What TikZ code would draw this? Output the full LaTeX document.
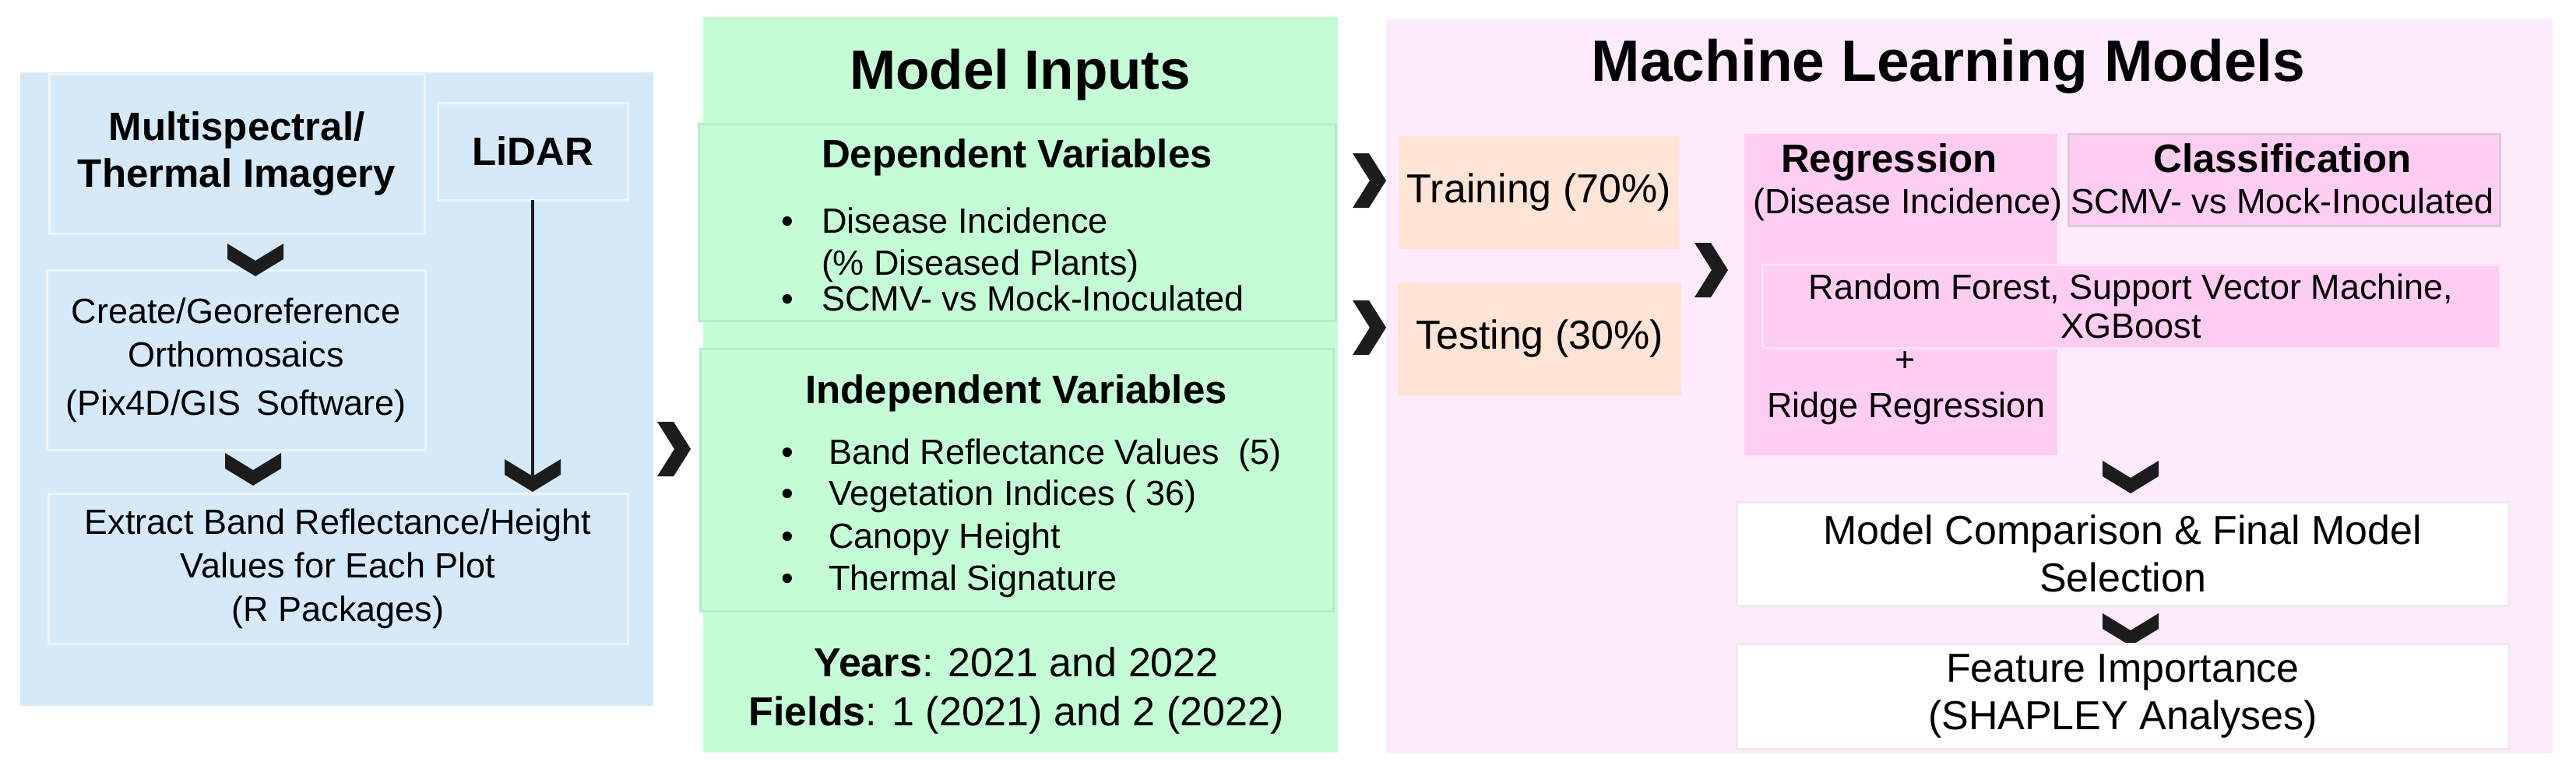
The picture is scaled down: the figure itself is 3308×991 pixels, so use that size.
\documentclass[tikz,border=0pt]{standalone}
\usepackage{fontspec}
\setmainfont{Liberation Sans}
\definecolor{blueP}{HTML}{D6E9F8}
\definecolor{blueB}{HTML}{EDF4FB}
\definecolor{greenP}{HTML}{C3FCD5}
\definecolor{greenB}{HTML}{B4EEC7}
\definecolor{pinkP}{HTML}{FDEAFB}
\definecolor{peachP}{HTML}{FDE4D5}
\definecolor{regP}{HTML}{FFCCF2}
\definecolor{classB}{HTML}{D9CDD6}
\definecolor{rfB}{HTML}{FBE3F7}
\definecolor{whiteB}{HTML}{F0E8EF}
\definecolor{chevcol}{HTML}{1C1C1C}
\newcommand\fsBody{\fontsize{45}{56}\selectfont}
\newcommand\fsMid{\fontsize{52}{61}\selectfont}
\newcommand\fsHead{\fontsize{51}{60}\selectfont\bfseries}
\newcommand\fsTitleA{\fontsize{71}{80}\selectfont\bfseries}
\newcommand\fsTitleB{\fontsize{75}{85}\selectfont\bfseries}
\begin{document}
\begin{tikzpicture}[x=1pt,y=-1pt,
  every node/.style={inner sep=0pt, outer sep=0pt},
  panel/.style={anchor=north west, draw=none},
  bbox/.style={anchor=north west, draw=blueB, line width=3pt, fill=blueP, align=center},
  gbox/.style={anchor=north west, draw=greenB, line width=3pt, fill=greenP},
  pbox/.style={anchor=north west, fill=peachP, align=center, font=\fsMid},
  wbox/.style={anchor=north west, draw=whiteB, line width=3pt, fill=white, align=center, font=\fsMid},
  chevd/.pic={\fill[chevcol] (-36,0) -- (-36,20) -- (0,42) -- (36,20) -- (36,0) -- (0,22) -- cycle;},
  chevr/.pic={\fill[chevcol] (0,-35) -- (21,-35) -- (43,0) -- (21,35) -- (0,35) -- (22,0) -- cycle;},
  txt/.style={anchor=base, font=\fsBody},
  txtw/.style={anchor=base west, font=\fsBody}
]
\useasboundingbox (0,0) rectangle (3308,991);
\fill[white] (0,0) rectangle (3308,991);

% ---------------- left (blue) panel
\node[panel, fill=blueP, minimum width=813pt, minimum height=814pt] (blue) at (26,93) {};
\node[bbox, minimum width=482pt, minimum height=205pt, font=\fsHead] (multi) at (63,95) {Multispectral/\\Thermal Imagery};
\node[bbox, minimum width=244pt, minimum height=125pt, font=\fsHead] (lidar) at (562,132) {LiDAR};
\node[bbox, minimum width=486pt, minimum height=231pt, font=\fsBody] (create) at (60,347) {Create/Georeference\\Orthomosaics\\[6pt](Pix4D/GIS\ \,Software)};
\node[bbox, minimum width=744pt, minimum height=193pt, font=\fsBody] (extract) at (62,634) {Extract Band Reflectance/Height\\Values for Each Plot\\(R Packages)};
\pic at (328,313) {chevd};
\pic at (325,582) {chevd};
\coordinate (lidtip) at (684,622);
\draw[chevcol, line width=4pt] (lidar.south) -- (lidtip);
\pic at (684,590) {chevd};
\pic at (844,577) {chevr};

% ---------------- middle (green) panel
\node[panel, fill=greenP, minimum width=815pt, minimum height=945pt] (green) at (903,22) {};
\node[anchor=base, font=\fsTitleA] (mi) at (1310,114) {Model Inputs};
\node[gbox, minimum width=818pt, minimum height=253pt] (dep) at (897,159) {};
\node[anchor=base, font=\fsHead] (deph) at (1306,215) {Dependent Variables};
\node[txtw] (db1) at (1003,299) {\textbullet};
\node[txtw] (d1) at (1055,299) {Disease Incidence};
\node[txtw] (d2) at (1055,353) {(\% Diseased Plants)};
\node[txtw] (db2) at (1003,399) {\textbullet};
\node[txtw] (d3) at (1055,399) {SCMV- vs Mock-Inoculated};
\node[gbox, minimum width=813pt, minimum height=337pt] (ind) at (899,448) {};
\node[anchor=base, font=\fsHead] (indh) at (1305,518) {Independent Variables};
\foreach \yy/\tt [count=\i] in {596/{Band Reflectance Values\ \ (5)},649/{Vegetation Indices ( 36)},704/{Canopy Height},758/{Thermal Signature}}{
  \node[txtw] (ib\i) at (1003,\yy) {\textbullet};
  \node[txtw] (it\i) at (1064,\yy) {\tt};
}
\node[anchor=base, font=\fsMid] (years) at (1305,869) {\textbf{Years}: 2021 and 2022};
\node[anchor=base, font=\fsMid] (fields) at (1305,932) {\textbf{Fields}: 1 (2021) and 2 (2022)};
\pic at (1737,232) {chevr};
\pic at (1737,421) {chevr};

% ---------------- right (pink) panel
\node[panel, fill=pinkP, minimum width=1498pt, minimum height=943pt] (pink) at (1780,25) {};
\node[anchor=base, font=\fsTitleB] (ml) at (2502,104) {Machine Learning Models};
\node[pbox, minimum width=359pt, minimum height=145pt] (train) at (1797,175) {Training (70\%)};
\node[pbox, minimum width=364pt, minimum height=145pt] (test) at (1795,363) {Testing (30\%)};
\pic at (2176,347) {chevr};
\node[panel, fill=regP, minimum width=402pt, minimum height=413pt] (reg) at (2240,172) {};
\node[anchor=north west, draw=classB, line width=3pt, fill=regP, minimum width=554pt, minimum height=118pt] (cls) at (2656,172) {};
\node[anchor=base, font=\fsHead] (regh) at (2426,221) {Regression};
\node[txt] (regs) at (2450,274) {(Disease Incidence)};
\node[anchor=base, font=\fsHead] (clsh) at (2931,221) {Classification};
\node[txt] (clss) at (2931,274) {SCMV- vs Mock-Inoculated};
\node[anchor=north west, draw=rfB, line width=3pt, fill=regP, minimum width=947pt, minimum height=107pt, align=center, font=\fontsize{45}{50}\selectfont] (rf) at (2263,340) {Random Forest, Support Vector Machine,\\XGBoost};
\node[font=\fsBody] (plus) at (2447,465) {+};
\node[txt] (ridge) at (2448,536) {Ridge Regression};
\pic at (2736,592) {chevd};
\node[wbox, minimum width=992pt, minimum height=133pt] (cmp) at (2230,645) {Model Comparison \& Final Model\\Selection};
\pic at (2736,788) {chevd};
\node[wbox, minimum width=992pt, minimum height=135pt] (feat) at (2230,827) {Feature Importance\\(SHAPLEY Analyses)};
\end{tikzpicture}
\end{document}
